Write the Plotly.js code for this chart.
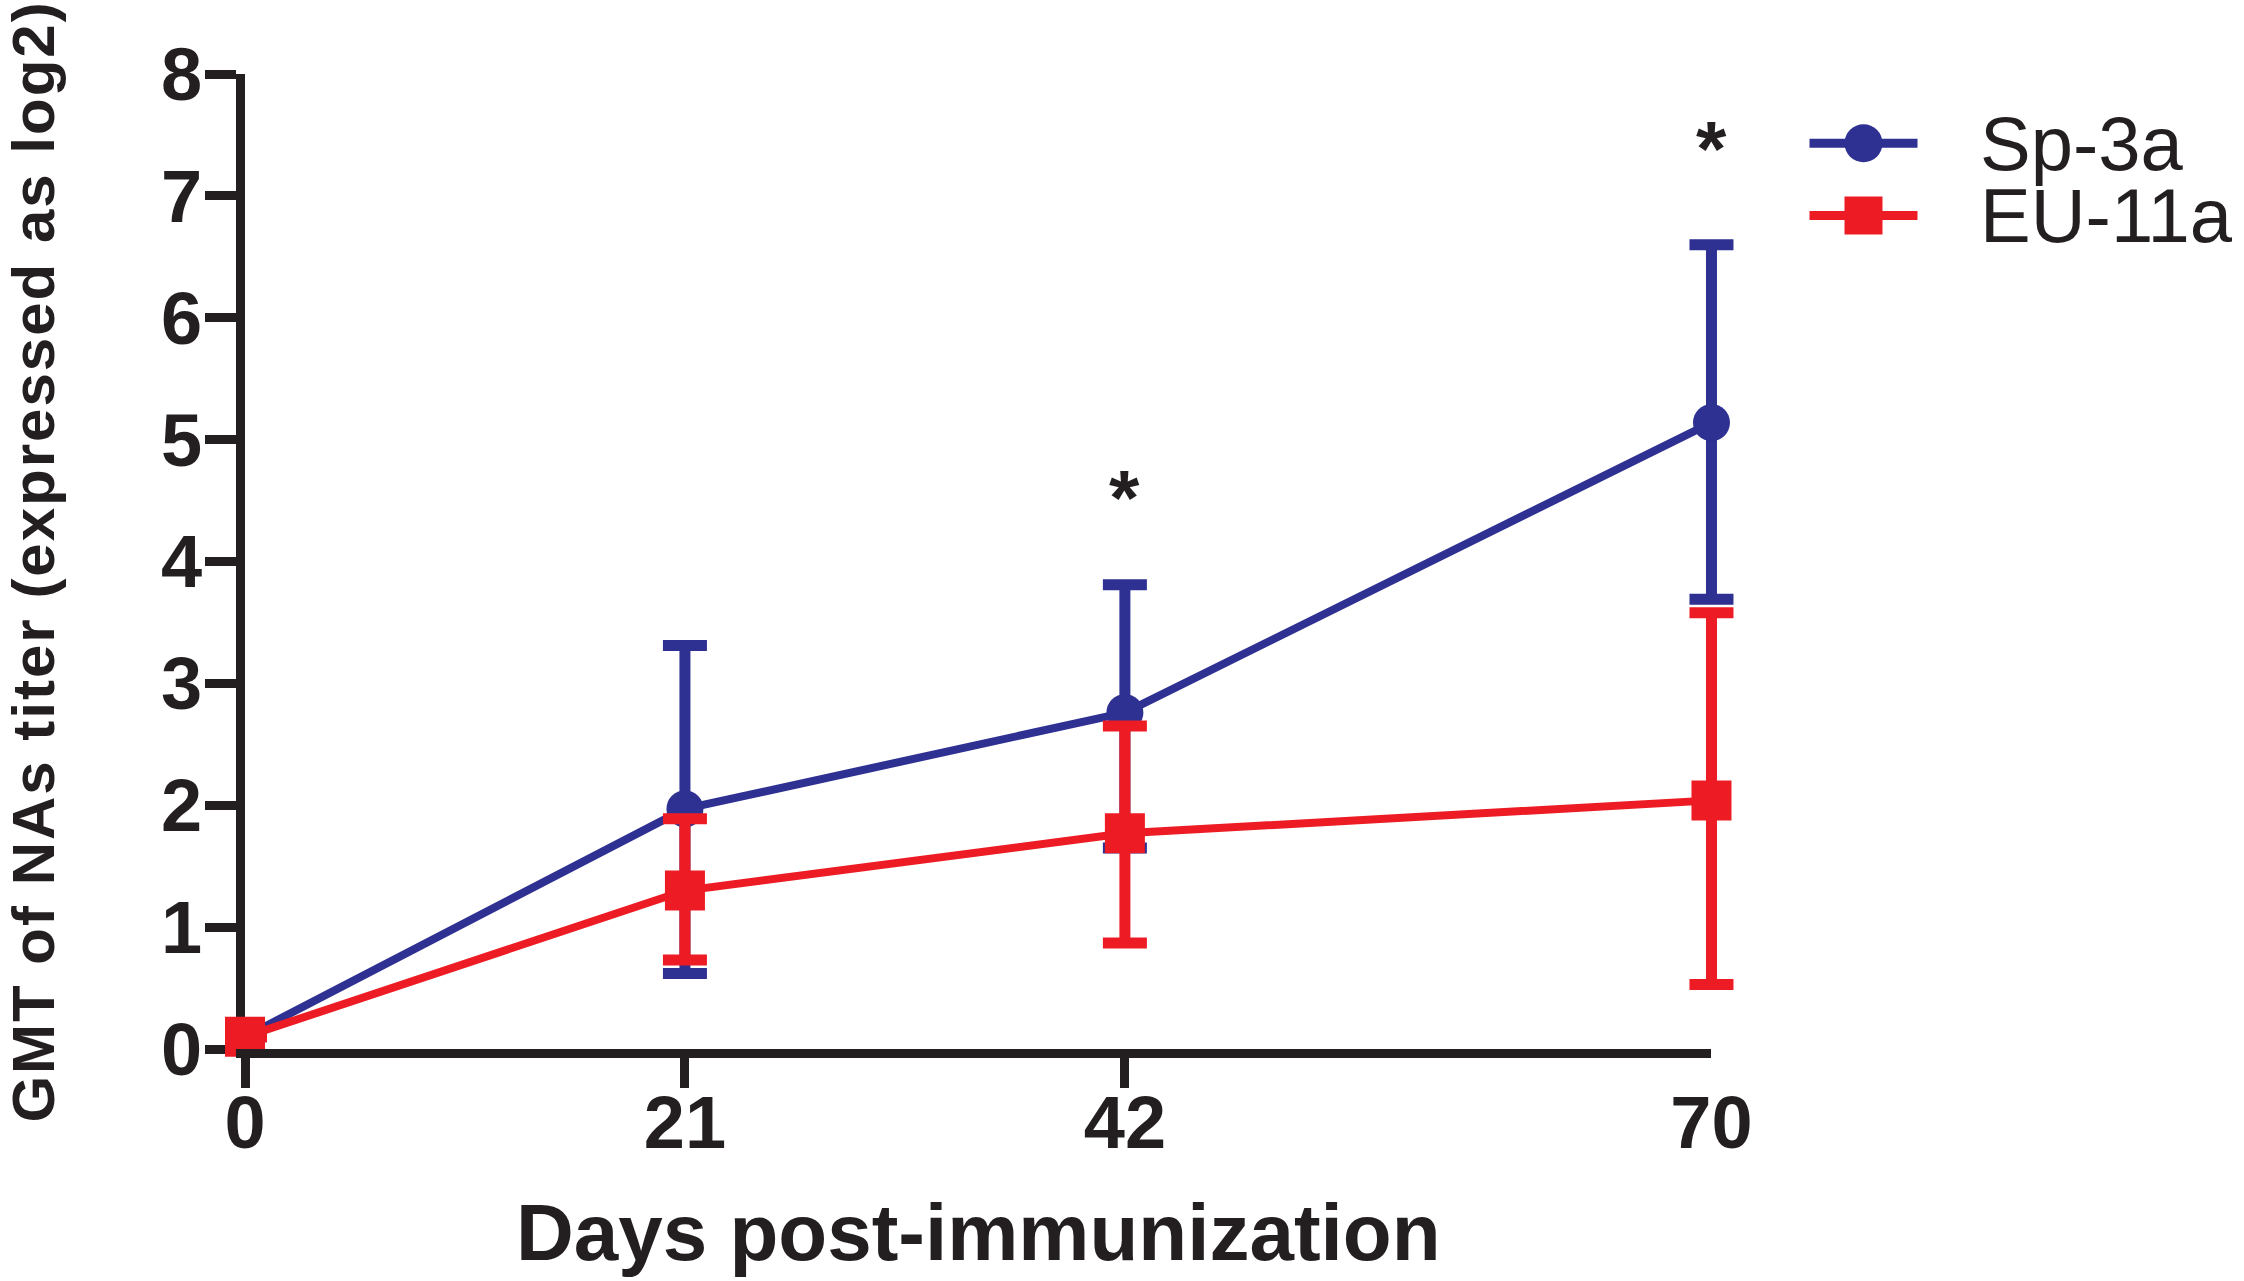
<!DOCTYPE html>
<html>
<head>
<meta charset="utf-8">
<script src="https://cdn.plot.ly/plotly-3.0.1.min.js"></script>
<style>
  html, body { margin: 0; padding: 0; background: #fff; }
  #chart { width: 2244px; height: 1281px; }
  .ytitle { letter-spacing: 2px; }
</style>
</head>
<body>
<div id="chart"></div>
<script>
// days post-immunization
const days = [0, 21, 42, 70];
const dayTicks = ['0', '21', '42', '70'];
// the original draws no tick mark at the last day
const tickMarkDays = [0, 21, 42];

// GMT of NAs titer (log2)
const sp3a = [0.1, 1.97, 2.76, 5.14];
const sp3aUpper = [0.1, 3.31, 3.81, 6.6];
const sp3aLower = [0.1, 0.62, 1.65, 3.69];

const eu11a = [0.1, 1.3, 1.77, 2.04];
const eu11aUpper = [0.1, 1.89, 2.65, 3.58];
const eu11aLower = [0.1, 0.73, 0.87, 0.53];

// significance marks
const starDays = [42, 70];
const starY = [4.64, 7.5];

const BLUE = '#2E3192';
const RED = '#ED1C24';
const INK = '#231F20';
const FONT = 'Arial, "Liberation Sans", sans-serif';

// a little room right of day 70 so its error bars are not clipped;
// the visible axis (x2) stops at day 70
const X_RANGE = [0, 71.6];
const lastDay = days[days.length - 1];
const axisEnd = (lastDay - X_RANGE[0]) / (X_RANGE[1] - X_RANGE[0]);

function errs(mid, hi, lo) {
  return {
    type: 'data',
    symmetric: false,
    array: mid.map((m, i) => hi[i] - m),
    arrayminus: mid.map((m, i) => m - lo[i]),
  };
}

const traces = [
  {
    x: days,
    y: sp3a,
    name: 'Sp-3a',
    type: 'scatter',
    mode: 'lines+markers',
    cliponaxis: false,
    line: { color: BLUE, width: 8 },
    marker: { color: BLUE, symbol: 'circle', size: 37 },
    error_y: Object.assign(errs(sp3a, sp3aUpper, sp3aLower), { color: BLUE, thickness: 11, width: 22 }),
  },
  {
    x: days,
    y: eu11a,
    name: 'EU-11a',
    type: 'scatter',
    mode: 'lines+markers',
    cliponaxis: false,
    line: { color: RED, width: 8 },
    marker: { color: RED, symbol: 'square', size: 40 },
    error_y: Object.assign(errs(eu11a, eu11aUpper, eu11aLower), { color: RED, thickness: 11, width: 22 }),
  },
  // empty trace so the axis-line / tick-mark axis gets drawn
  {
    x: [],
    y: [],
    xaxis: 'x2',
    yaxis: 'y',
    type: 'scatter',
    mode: 'markers',
    showlegend: false,
    hoverinfo: 'skip',
  },
];

// legend drawn by hand so the sample line and marker keep the figure's size
const legendItems = [
  { name: 'Sp-3a', color: BLUE, symbol: 'circle', y: 0.929 },
  { name: 'EU-11a', color: RED, symbol: 'square', y: 0.855 },
];

const shapes = [];
const annotations = [];

legendItems.forEach(item => {
  shapes.push({
    type: 'line', xref: 'paper', yref: 'paper',
    x0: 1.043, x1: 1.115, y0: item.y, y1: item.y,
    line: { color: item.color, width: 9 },
  });
  shapes.push({
    type: item.symbol === 'circle' ? 'circle' : 'rect',
    xref: 'paper', yref: 'paper',
    xsizemode: 'pixel', ysizemode: 'pixel',
    xanchor: 1.079, yanchor: item.y,
    x0: -19, x1: 19, y0: -19, y1: 19,
    fillcolor: item.color, line: { width: 0 },
  });
  annotations.push({
    text: item.name, xref: 'paper', yref: 'paper',
    x: 1.1556, y: item.y, xanchor: 'left', yanchor: 'middle',
    showarrow: false,
    font: { family: FONT, size: 76, color: INK },
  });
});

starDays.forEach((d, i) => {
  annotations.push({
    text: '*', x: d, y: starY[i], xref: 'x', yref: 'y',
    yanchor: 'middle', yshift: -14, showarrow: false,
    font: { family: FONT, size: 78, weight: 'bold', color: INK },
  });
});

const layout = {
  width: 2244,
  height: 1281,
  margin: { l: 245, r: 499, t: 74, b: 232 },
  paper_bgcolor: '#fff',
  plot_bgcolor: 'rgba(0,0,0,0)',
  showlegend: false,
  font: { family: FONT, color: INK },
  // data axis: tick labels only
  xaxis: {
    range: X_RANGE,
    domain: [0, 1],
    anchor: 'y',
    tickmode: 'array',
    tickvals: days,
    ticktext: dayTicks,
    ticks: '',
    ticklabelstandoff: 24,
    showline: false,
    showgrid: false,
    zeroline: false,
    layer: 'below traces',
    tickfont: { family: FONT, size: 74, weight: 'bold', color: INK },
  },
  // axis line, tick marks and title, ending at day 70
  xaxis2: {
    range: [X_RANGE[0], lastDay],
    domain: [0, axisEnd],
    anchor: 'y',
    side: 'bottom',
    tickmode: 'array',
    tickvals: tickMarkDays,
    ticks: 'outside',
    ticklen: 30,
    tickwidth: 9,
    tickcolor: INK,
    showticklabels: false,
    showline: true,
    linewidth: 9,
    linecolor: INK,
    showgrid: false,
    zeroline: false,
    layer: 'below traces',
    title: {
      text: 'Days post-immunization',
      font: { family: FONT, size: 80, weight: 'bold', color: INK },
      standoff: 120,
    },
  },
  yaxis: {
    range: [0, 8],
    anchor: 'x',
    dtick: 1,
    ticks: 'outside',
    ticklen: 31,
    tickwidth: 9,
    tickcolor: INK,
    ticklabelstandoff: -12,
    showline: true,
    linewidth: 9,
    linecolor: INK,
    showgrid: false,
    zeroline: false,
    layer: 'below traces',
    tickfont: { family: FONT, size: 74, weight: 'bold', color: INK },
    title: {
      text: 'GMT of NAs titer (expressed as log2)',
      font: { family: FONT, size: 60, weight: 'bold', color: INK },
      standoff: 112,
    },
  },
  shapes: shapes,
  annotations: annotations,
};

Plotly.newPlot('chart', traces, layout, { displayModeBar: false, staticPlot: true });
</script>
</body>
</html>
